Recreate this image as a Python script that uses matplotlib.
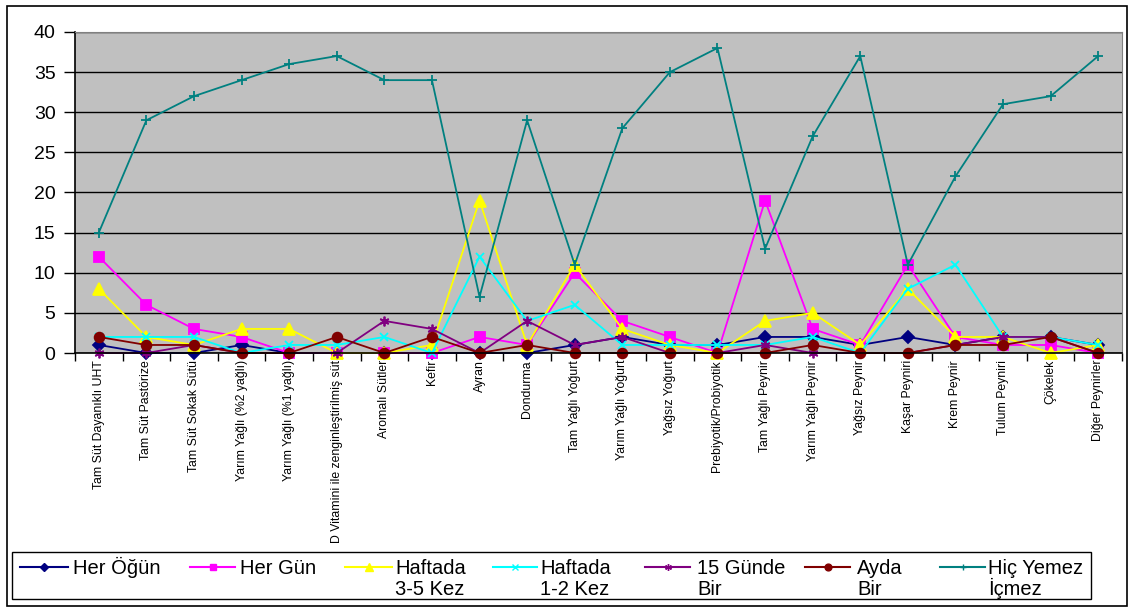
import numpy as np
import matplotlib.pyplot as plt
from matplotlib.lines import Line2D
from matplotlib.patches import Rectangle

# Süt ve süt ürünleri tüketim sıklığı
urunler = ['Tam Süt Dayanıklı UHT', 'Tam Süt Pastörize', 'Tam Süt Sokak Sütü',
           'Yarım Yağlı (%2 yağlı)', 'Yarım Yağlı (%1 yağlı)',
           'D Vitamini ile zenginleştirilmiş süt', 'Aromalı Sütler', 'Kefir',
           'Ayran', 'Dondurma', 'Tam Yağlı Yoğurt', 'Yarım Yağlı Yoğurt',
           'Yağsız Yoğurt', 'Prebiyotik/Probiyotik', 'Tam Yağlı Peynir',
           'Yarım Yağlı Peynir', 'Yağsız Peynir', 'Kaşar Peyniri', 'Krem Peynir',
           'Tulum Peyniri', 'Çökelek', 'Diğer Peynirler']

her_ogun   = [1, 0, 0, 1, 0, 0, 0, 0, 0, 0, 1, 2, 1, 1, 2, 2, 1, 2, 1, 2, 2, 1]
her_gun    = [12, 6, 3, 2, 0, 0, 0, 0, 2, 1, 10, 4, 2, 0, 19, 3, 1, 11, 2, 1, 1, 0]
haftada_35 = [8, 2, 1, 3, 3, 0, 0, 1, 19, 1, 11, 3, 1, 0, 4, 5, 1, 8, 2, 2, 0, 1]
haftada_12 = [2, 2, 2, 0, 1, 1, 2, 0, 12, 4, 6, 1, 1, 1, 1, 2, 0, 8, 11, 2, 2, 1]
gunde_15   = [0, 0, 1, 0, 0, 0, 4, 3, 0, 4, 1, 2, 0, 0, 1, 0, 0, 0, 1, 2, 2, 0]
ayda_bir   = [2, 1, 1, 0, 0, 2, 0, 2, 0, 1, 0, 0, 0, 0, 0, 1, 0, 0, 1, 1, 2, 0]
hic_yemez  = [15, 29, 32, 34, 36, 37, 34, 34, 7, 29, 11, 28, 35, 38, 13, 27, 37,
              11, 22, 31, 32, 37]

seriler = [
    ('Her Öğün', her_ogun, '#000080', 'D', 6),
    ('Her Gün', her_gun, '#FF00FF', 's', 7),
    ('Haftada\n3-5 Kez', haftada_35, '#FFFF00', '^', 8),
    ('Haftada\n1-2 Kez', haftada_12, '#00FFFF', 'x', 6),
    ('15 Günde\nBir', gunde_15, '#800080', (6, 2, 0), 7),
    ('Ayda\nBir', ayda_bir, '#800000', 'o', 7),
    ('Hiç Yemez\nİçmez', hic_yemez, '#008080', '+', 7),
]

# lejant öğelerinin yatay yerleşimi (piksel): çizgi başı, çizgi sonu, metin
lejant_x = [(20, 68, 73), (190, 235, 240), (345, 392, 395), (493, 537, 540),
            (645, 690, 697), (805, 850, 857), (940, 985, 988)]

plt.rcParams['font.family'] = ['Liberation Sans', 'DejaVu Sans']

W, H = 1133, 608
fig = plt.figure(figsize=(W / 100, H / 100), dpi=100)
ax = fig.add_axes([0.0662, 0.4194, 0.9241, 0.528])
ax.set_facecolor('#C0C0C0')

x = np.arange(len(urunler))
for ad, y, renk, isaret, boyut in seriler:
    ax.plot(x, y, color=renk, lw=1.3, marker=isaret, markersize=boyut,
            markeredgecolor=renk, markerfacecolor=renk, markeredgewidth=1.3,
            clip_on=False)

ax.set_ylim(0, 40)
ax.set_yticks(range(0, 41, 5))
ax.yaxis.grid(True, color='black', lw=1)
ax.set_axisbelow(True)
ax.tick_params(axis='y', length=8, width=1, labelsize=14, pad=6)

ax.set_xlim(-0.5, len(urunler) - 0.5)
ax.set_xticks(x)
ax.set_xticklabels(urunler, rotation=90, va='top', ha='center', fontsize=8.8)
ax.set_xticks(np.arange(-0.5, len(urunler)), minor=True)
ax.tick_params(axis='x', which='major', length=0, pad=5)
ax.tick_params(axis='x', which='minor', length=6, width=1)

for s in ['left', 'bottom']:
    ax.spines[s].set_color('black')
    ax.spines[s].set_linewidth(1.2)
for s in ['top', 'right']:
    ax.spines[s].set_color('#808080')

# lejant: çerçeve, çizgi örnekleri ve etiketler
fig.patches.append(Rectangle((12 / W, 1 - 599 / H), 1079 / W, 47 / H,
                             transform=fig.transFigure, fill=False,
                             edgecolor='black', lw=1))
yl = 1 - 567 / H
for (ad, y, renk, isaret, boyut), (x0, x1, xt) in zip(seriler, lejant_x):
    fig.add_artist(Line2D([x0 / W, x1 / W], [yl, yl], color=renk, lw=1.5,
                          transform=fig.transFigure))
    fig.add_artist(Line2D([(x0 + x1) / 2 / W], [yl], color=renk, marker=isaret,
                          markersize=boyut * 0.7, markerfacecolor=renk,
                          markeredgecolor=renk, transform=fig.transFigure))
    # her satır kendi taban çizgisine
    for i, satir in enumerate(ad.split('\n')):
        fig.text(xt / W, 1 - (574 + 21 * i) / H, satir, fontsize=14.5,
                 va='baseline', ha='left')

# dış çerçeve
fig.patches.append(Rectangle((0.006, 0.004), 0.989, 0.986, transform=fig.transFigure,
                             fill=False, edgecolor='black', lw=1.2))

fig.savefig('out.png', dpi=100)
